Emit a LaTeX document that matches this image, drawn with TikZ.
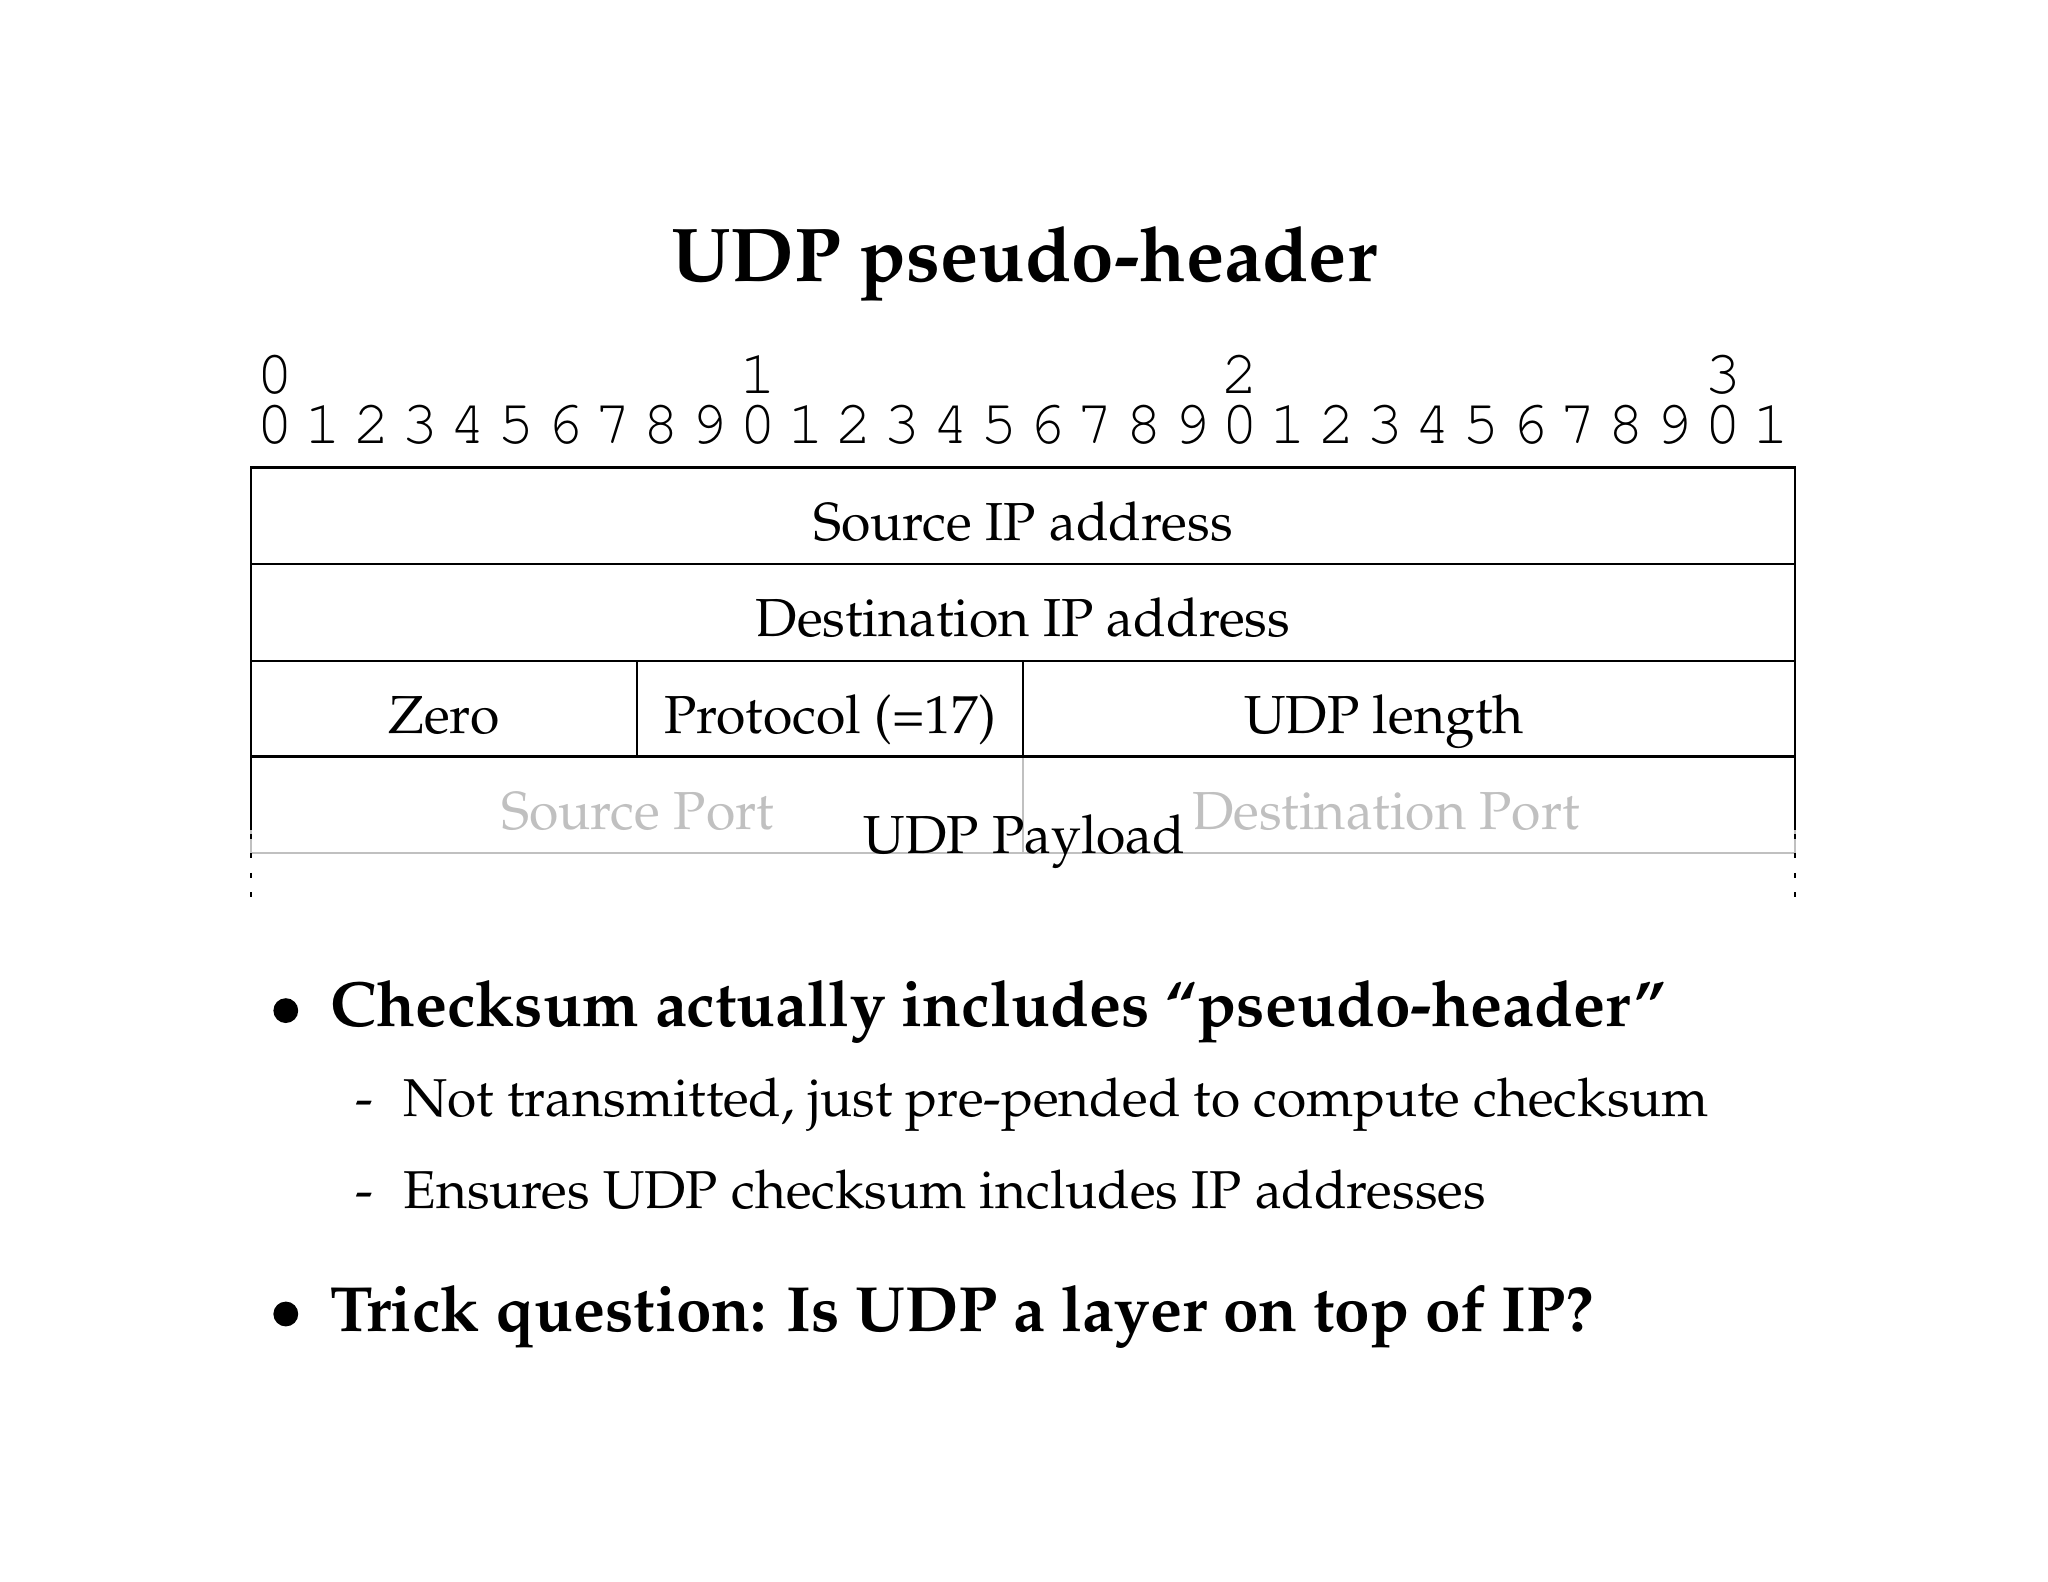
\documentclass[tikz,border=0pt]{standalone}
\usepackage[T1]{fontenc}
\usepackage{mathpazo}
\definecolor{lightline}{RGB}{192,192,192}
\begin{document}
\begin{tikzpicture}[x=0.38672pt,y=-0.38672pt,
  txt/.style={inner sep=0pt,anchor=base,font=\fontsize{20.7}{24}\selectfont},
  graytxt/.style={txt,text=lightline},
  bitnum/.style={inner sep=0pt,anchor=base,font=\fontsize{24}{26}\fontfamily{pcr}\selectfont},
  boxline/.style={line width=1.05pt,black},
  grayline/.style={line width=0.8pt,lightline},
  dotline/.style={line width=0.8pt,black,dash pattern=on 1.9pt off 5.6pt},
  bulmark/.style={circle,fill=black,inner sep=0pt,minimum size=9.6pt},
  bul/.style={inner sep=0pt,anchor=base west,font=\fontsize{24.7}{28}\bfseries\selectfont},
  submark/.style={inner sep=0pt,anchor=base,font=\fontsize{20.6}{24}\selectfont},
  sub/.style={inner sep=0pt,anchor=base west,font=\fontsize{20.6}{24}\selectfont}]
\useasboundingbox (0,0) rectangle (2048,1582);
% title
\node[inner sep=0pt,anchor=base,font=\fontsize{29.5}{32}\bfseries\selectfont] (title) at (1024,281.7) {UDP pseudo-header};
% bit ruler
\foreach \i in {0,...,31}{
  \pgfmathtruncatemacro{\d}{mod(\i,10)}
  \node[bitnum] (b\i) at ({251+48.25*(\i+0.5)},443.3) {\d};
}
\foreach \i/\t in {0/0,10/1,20/2,30/3}{
  \node[bitnum] (t\i) at ({251+48.25*(\i+0.5)},394) {\t};
}
% coordinates of the table
\coordinate (L0) at (251,467.3); \coordinate (R0) at (1795,467.3);
\coordinate (L1) at (251,564);   \coordinate (R1) at (1795,564);
\coordinate (L2) at (251,661);   \coordinate (R2) at (1795,661);
\coordinate (L3) at (251,756.7); \coordinate (R3) at (1795,756.7);
\coordinate (L4) at (251,853.3); \coordinate (R4) at (1795,853.3);
\coordinate (M2) at (1023,661); \coordinate (M3) at (1023,756.7); \coordinate (M4) at (1023,853.3);
\coordinate (Q2) at (637,661); \coordinate (Q3) at (637,756.7);
\coordinate (LS) at (251,830); \coordinate (RS) at (1795,830);
\coordinate (LD0) at (251,834); \coordinate (RD0) at (1795,834);
\coordinate (LD1) at (251,898); \coordinate (RD1) at (1795,898);
% gray UDP header row
\draw[grayline] (L3) -- (L4) -- (R4) -- (R3);
\draw[grayline] (M3) -- (M4);
% black pseudo-header
\draw[boxline] (LS) -- (L0) -- (R0) -- (RS);
\draw[boxline] (L1) -- (R1);
\draw[boxline] (L2) -- (R2);
\draw[boxline] (L3) -- (R3);
\draw[boxline] (Q2) -- (Q3);
\draw[boxline] (M2) -- (M3);
\draw[dotline] (LD0) -- (LD1);
\draw[dotline] (RD0) -- (RD1);
% field labels
\node[txt] (srcip) at (1023,540) {Source IP address};
\node[txt] (dstip) at (1023,636.7) {Destination IP address};
\node[txt] (zero) at (444,733) {Zero};
\node[txt] (proto) at (830,733) {Protocol (=17)};
\node[txt] (udplen) at (1384,733) {UDP length};
\node[graytxt] (sport) at (637.5,829.3) {Source Port};
\node[graytxt] (dport) at (1386,829.3) {Destination Port};
\node[txt] (payload) at (1024.5,853.3) {UDP Payload};
% bullets
\node[bulmark] (dot1) at (285.8,1010.6) {};
\node[bul] (b1) at (330,1026.5) {Checksum actually includes ``pseudo-header''};
\node[submark] (dash1) at (364,1116.7) {-};
\node[sub] (s1) at (403,1116.7) {Not transmitted, just pre-pended to compute checksum};
\node[submark] (dash2) at (364,1208) {-};
\node[sub] (s2) at (403,1208) {Ensures UDP checksum includes IP addresses};
\node[bulmark] (dot2) at (285.8,1314) {};
\node[bul] (b2) at (330,1331) {Trick question: Is UDP a layer on top of IP?};
\end{tikzpicture}
\end{document}
